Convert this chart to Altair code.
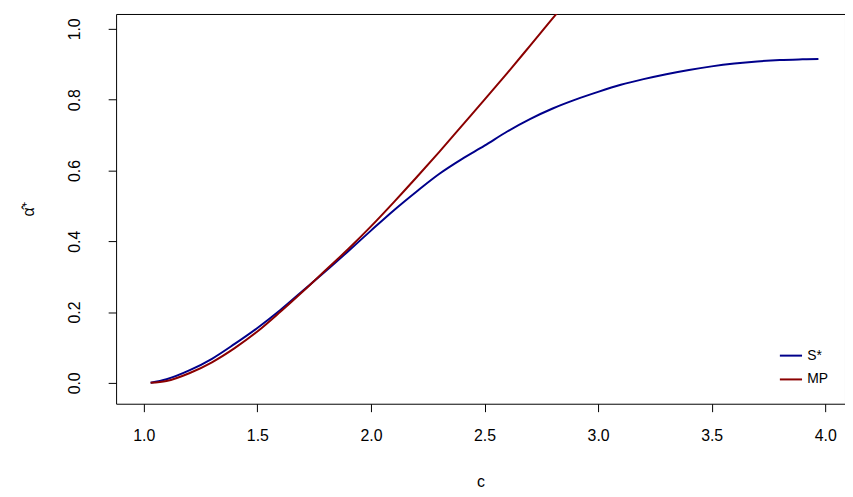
import altair as alt
import pandas as pd

bx = [1.03,1.1,1.2,1.3,1.4,1.5,1.6,1.7,1.8,1.9,2.0,2.1,2.2,2.3,2.4,2.5,2.6,2.7,2.8,2.9,3.0,3.1,3.2,3.3,3.4,3.5,3.6,3.7,3.8,3.9,3.97]
by = [0.0,0.01,0.035,0.068,0.11,0.155,0.205,0.26,0.315,0.372,0.43,0.487,0.54,0.59,0.632,0.67,0.71,0.745,0.775,0.80,0.822,0.842,0.858,0.872,0.884,0.894,0.902,0.908,0.912,0.914,0.915]
rx = [1.03,1.1,1.2,1.3,1.4,1.5,1.6,1.7,1.8,1.9,2.0,2.1,2.2,2.3,2.4,2.5,2.6,2.7,2.82,2.9]
ry = [0.0,0.005,0.027,0.058,0.098,0.145,0.2,0.258,0.318,0.378,0.442,0.51,0.58,0.652,0.726,0.8,0.875,0.952,1.045,1.105]

df = pd.concat([
    pd.DataFrame({"c": bx, "a": by, "s": "S*"}),
    pd.DataFrame({"c": rx, "a": ry, "s": "MP"}),
])

chart = alt.Chart(df).mark_line(strokeWidth=2, clip=True, interpolate="monotone").encode(
    x=alt.X("c:Q", title="c", scale=alt.Scale(domain=[0.878, 4.087], nice=False, zero=False),
            axis=alt.Axis(values=[1.0,1.5,2.0,2.5,3.0,3.5,4.0], format=".1f", grid=False,
                          tickColor="black", domain=False, labelFontSize=16, titleFontSize=16,
                          labelColor="black", titleColor="black", labelPadding=16, titlePadding=30,
                          titleFontWeight="normal", tickSize=8)),
    y=alt.Y("a:Q", title="α̂⁺", scale=alt.Scale(domain=[-0.059, 1.042], nice=False, zero=False),
            axis=alt.Axis(values=[0,0.2,0.4,0.6,0.8,1.0], format=".1f", grid=False, labelAngle=270,
                          labelAlign="center", labelBaseline="bottom",
                          tickColor="black", domain=False, labelFontSize=16, titleFontSize=16,
                          labelColor="black", titleColor="black", labelPadding=26, titlePadding=30,
                          titleFontWeight="normal", tickSize=8)),
    color=alt.Color("s:N", scale=alt.Scale(domain=["S*","MP"], range=["#00008B","#8B0000"]),
                    legend=alt.Legend(title=None, orient="none", legendX=668, legendY=332,
                                      symbolType="stroke", symbolStrokeWidth=2, symbolSize=500,
                                      labelFontSize=14, rowPadding=4)),
).properties(
    width=735, height=393,
    autosize=alt.AutoSizeParams(type="none"),
    padding={"left": 109, "top": 4, "right": 0, "bottom": 90},
).configure(font="Liberation Sans", view=alt.ViewConfig(stroke="black", strokeWidth=1))

chart.save("out.html", embed_options={"renderer": "svg", "actions": False})
